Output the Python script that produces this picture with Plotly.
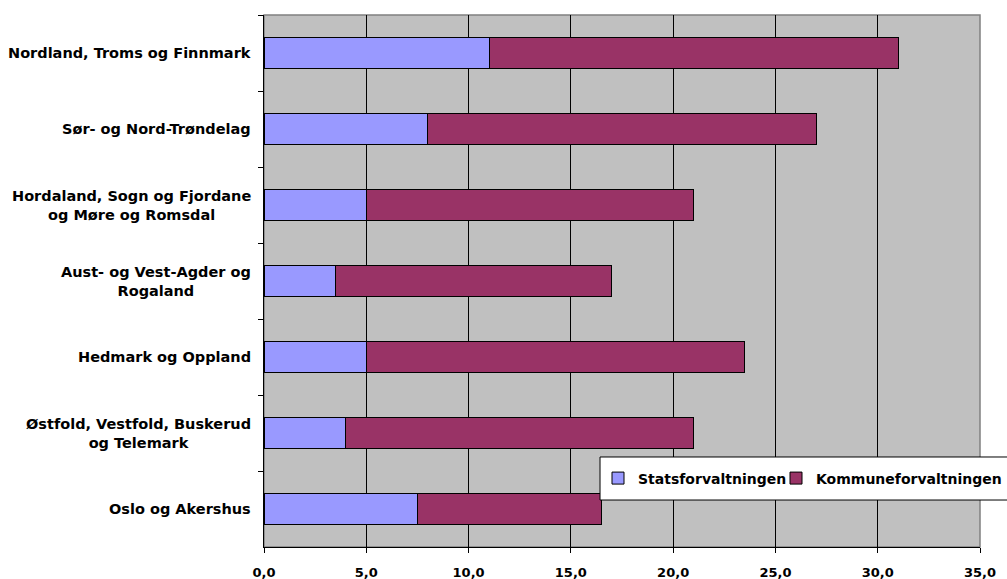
import plotly.graph_objects as go

categories = [
    "Nordland, Troms og Finnmark",
    "Sør- og Nord-Trøndelag",
    "Hordaland, Sogn og Fjordane<br>og Møre og Romsdal",
    "Aust- og Vest-Agder og<br>Rogaland",
    "Hedmark og Oppland",
    "Østfold, Vestfold, Buskerud<br>og Telemark",
    "Oslo og Akershus",
]
stats = [11.0, 8.0, 5.0, 3.5, 5.0, 4.0, 7.5]
kommune = [20.0, 19.0, 16.0, 13.5, 18.5, 17.0, 9.0]
series_names = ["Statsforvaltningen", "Kommuneforvaltningen"]
x_ticks = [0, 5, 10, 15, 20, 25, 30, 35]

FONT = "DejaVu Sans"
legend_font = dict(family=FONT, size=14, color="black", weight="bold")

fig = go.Figure()
fig.add_trace(go.Bar(
    y=categories, x=stats, orientation="h", name=series_names[0],
    marker=dict(color="#9999FF", line=dict(color="black", width=1)),
    legend="legend",
))
fig.add_trace(go.Bar(
    y=categories, x=kommune, orientation="h", name=series_names[1],
    marker=dict(color="#993366", line=dict(color="black", width=1)),
    legend="legend2",
))

annotations = []
for c in categories:
    annotations.append(dict(
        xref="paper", yref="y", x=-0.016, y=c, text=c, showarrow=False,
        xanchor="right", yanchor="middle", align="center",
        font=dict(family=FONT, size=14.5, color="black", weight="bold"),
    ))

fig.update_layout(
    width=1007, height=579,
    margin=dict(l=264, r=27, t=15, b=32, pad=0, autoexpand=False),
    paper_bgcolor="white",
    plot_bgcolor="#C0C0C0",
    barmode="stack",
    bargap=0.59,
    separators=",.",
    showlegend=True,
    legend=dict(
        orientation="h", x=0.4665, y=0.1288, xanchor="left", yanchor="middle",
        bgcolor="rgba(0,0,0,0)", borderwidth=0, font=legend_font,
    ),
    legend2=dict(
        orientation="h", x=0.7151, y=0.1288, xanchor="left", yanchor="middle",
        bgcolor="rgba(0,0,0,0)", borderwidth=0, font=legend_font,
    ),
    xaxis=dict(
        range=[0, 35], tickvals=x_ticks, tickformat=".1f",
        showgrid=True, gridcolor="black", gridwidth=1,
        zeroline=False, showline=True, linecolor="black", linewidth=1,
        ticks="outside", ticklen=5, tickcolor="black", ticklabelstandoff=8,
        tickfont=dict(family=FONT, size=13, color="black", weight="bold"),
        fixedrange=True,
    ),
    yaxis=dict(
        autorange="reversed", showticklabels=False,
        showgrid=False, zeroline=False, showline=True, linecolor="black", linewidth=1,
        ticks="outside", ticklen=5, tickcolor="black", tickson="boundaries",
        fixedrange=True,
    ),
    annotations=annotations,
    shapes=[
        dict(
            type="rect", xref="paper", yref="paper", x0=0, x1=1, y0=0, y1=1,
            line=dict(color="#808080", width=1.5), layer="below",
        ),
        dict(
            type="rect", xref="paper", yref="paper",
            x0=0.4693, x1=1.045, y0=0.0883, y1=0.1692,
            fillcolor="white", line=dict(color="black", width=1), layer="above",
        ),
    ],
)

fig.write_html("out.html")
